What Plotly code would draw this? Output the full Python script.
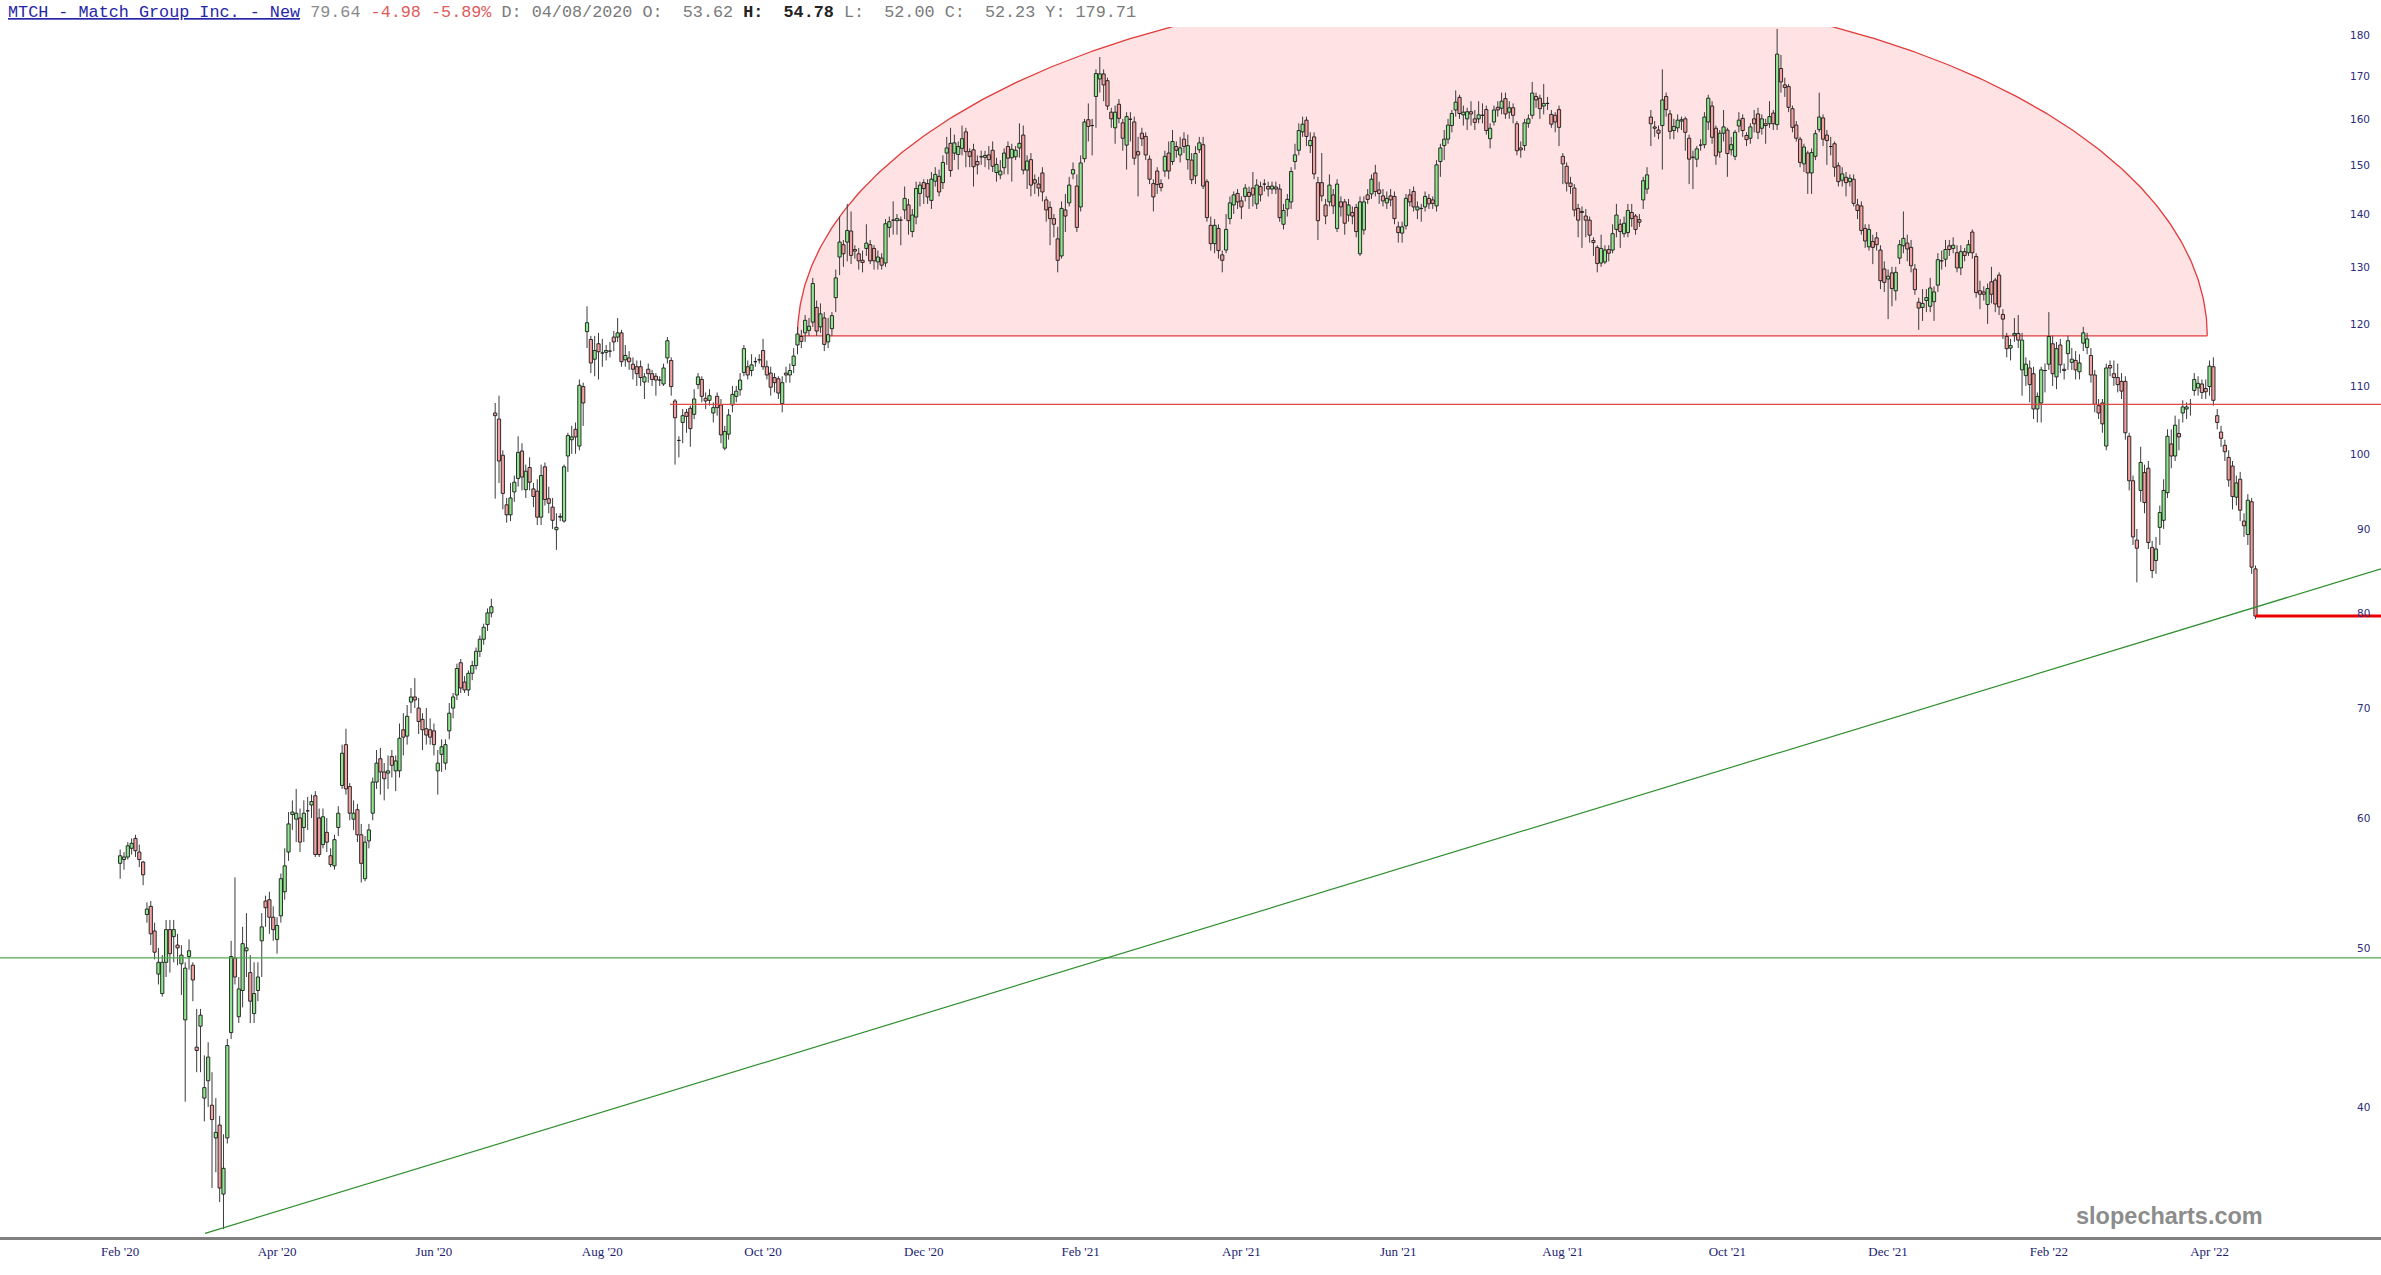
import numpy as np
import pandas as pd
import plotly.graph_objects as go

# ---------------- data ----------------
holidays = ["2020-02-17", "2020-04-10", "2020-05-25", "2020-07-03", "2020-09-07", "2020-11-26",
            "2020-12-25", "2021-01-01", "2021-01-18", "2021-02-15", "2021-04-02", "2021-05-31",
            "2021-07-05", "2021-09-06", "2021-11-25", "2021-12-24", "2022-01-17", "2022-02-21",
            "2022-04-15"]
first_date = "2020-02-03"

# (open, high, low, close)
ohlc_feb_jun_2020 = [
    (56.3, 57.4, 55.1, 56.9), (56.6, 57.2, 55.8, 56.8), (56.8, 58.0, 56.6, 57.7), (57.5, 58.3, 57.0, 57.9),
    (58.3, 58.6, 56.8, 57.3), (57.2, 57.8, 56.0, 56.6), (56.4, 56.5, 54.6, 55.4), (52.4, 53.3, 51.8, 52.8),
    (53.0, 53.4, 50.2, 51.0), (51.2, 51.8, 49.2, 49.7), (48.2, 50.0, 47.5, 49.0), (46.9, 49.5, 46.7, 49.0),
    (49.0, 52.0, 48.0, 51.3), (51.3, 52.0, 48.3, 49.6), (50.8, 52.0, 49.0, 51.3), (50.2, 51.0, 48.8, 50.0),
    (48.9, 50.2, 46.8, 49.5), (45.2, 49.0, 40.3, 48.6), (49.4, 50.6, 48.5, 49.8), (48.8, 49.0, 46.4, 47.8),
    (43.5, 45.9, 42.0, 43.3), (44.8, 45.9, 42.0, 45.5), (40.5, 43.0, 39.2, 41.1), (41.5, 43.8, 40.0, 42.9),
    (40.1, 42.0, 35.7, 39.3), (38.3, 40.5, 36.5, 38.6), (39.0, 39.5, 35.0, 35.7), (35.4, 38.5, 33.7, 36.7),
    (38.3, 44.0, 38.0, 43.6), (44.4, 50.5, 44.0, 49.4), (49.3, 55.2, 47.5, 48.0), (45.4, 48.0, 45.0, 47.2),
    (47.1, 51.5, 46.0, 50.3), (49.8, 52.5, 48.0, 50.0), (48.3, 49.5, 45.0, 46.4), (45.6, 49.0, 45.0, 46.9),
    (47.1, 49.0, 46.4, 48.0), (50.5, 52.5, 48.0, 51.5), (53.4, 53.8, 51.5, 52.9), (53.5, 54.1, 51.0, 52.2),
    (52.2, 53.0, 50.5, 51.3), (50.6, 52.2, 49.6, 51.6), (52.3, 55.5, 51.8, 55.1), (54.1, 57.5, 53.5, 56.1),
    (57.2, 60.5, 56.5, 59.5), (60.3, 61.5, 59.0, 60.5), (59.9, 62.5, 58.0, 60.4), (60.0, 60.8, 57.2, 58.0),
    (59.2, 61.5, 58.0, 60.4), (60.6, 61.8, 59.0, 60.6), (61.1, 62.0, 60.0, 61.4), (61.9, 62.3, 56.8, 57.0),
    (60.0, 60.8, 56.8, 57.0), (57.8, 60.8, 57.5, 60.1), (58.8, 60.0, 57.2, 58.0), (56.9, 57.5, 56.0, 56.2),
    (56.1, 58.6, 55.8, 58.2), (59.2, 61.0, 58.5, 60.4), (62.8, 66.5, 62.5, 65.7), (66.5, 68.0, 62.0, 62.5),
    (62.7, 63.0, 59.8, 60.4), (59.9, 61.5, 59.0, 60.4), (60.7, 61.2, 58.0, 58.6), (58.6, 59.5, 54.8, 56.3),
    (55.1, 58.5, 54.9, 58.0), (58.1, 59.5, 57.5, 59.0), (60.4, 63.5, 59.8, 63.1), (63.1, 66.0, 62.5, 64.8),
    (65.2, 66.2, 62.0, 64.0), (64.0, 64.8, 61.5, 63.4), (63.9, 65.5, 62.5, 64.1), (65.4, 66.0, 63.5, 64.6),
    (64.1, 65.5, 62.3, 65.0), (64.1, 68.5, 63.5, 67.1), (67.9, 69.5, 65.5, 67.2), (67.3, 70.3, 66.5, 69.2),
    (70.6, 72.0, 69.5, 71.1), (71.1, 73.0, 70.0, 70.8), (70.0, 71.0, 67.5, 68.7), (68.9, 69.5, 66.0, 67.9),
    (68.0, 70.0, 66.5, 67.4), (67.9, 69.0, 66.5, 67.2), (67.8, 68.5, 65.5, 66.5), (64.1, 66.0, 62.0, 64.8),
    (65.6, 67.0, 64.0, 66.3), (64.8, 67.0, 64.2, 66.5), (67.8, 70.5, 67.0, 69.5), (70.0, 71.5, 69.0, 71.1),
    (71.3, 74.5, 70.8, 74.0), (74.6, 75.0, 71.5, 72.0), (72.6, 73.2, 71.5, 71.8),
    (71.8, 73.8, 71.2, 73.5), (73.5, 74.8, 72.8, 74.3), (74.3, 76.2, 73.9, 75.8), (75.8, 77.5, 75.2, 77.1),
    (77.1, 78.8, 76.5, 78.4), (78.7, 80.5, 78.0, 80.0), (80.0, 81.6, 79.5, 80.7),
]

ohlc_jul_oct_2020 = [
    (105.9, 107.4, 93.9, 105.5), (105.0, 108.5, 96.0, 99.0), (99.8, 100.5, 92.5, 94.6), (93.1, 94.0, 90.8, 91.8),
    (91.8, 96.0, 91.0, 94.0), (94.8, 97.0, 93.5, 96.1), (96.6, 102.5, 95.5, 100.2), (100.4, 101.5, 95.0, 96.8),
    (95.1, 98.5, 94.0, 97.6), (98.1, 99.5, 95.0, 96.1), (95.2, 96.0, 92.8, 94.2), (94.9, 96.5, 90.5, 91.5),
    (91.5, 98.5, 90.5, 97.0), (98.2, 98.8, 93.0, 93.8), (93.9, 95.5, 92.0, 93.3), (92.8, 94.0, 90.0, 91.1),
    (89.9, 92.0, 87.4, 90.2), (91.5, 92.0, 91.0, 91.6), (91.0, 98.5, 90.8, 98.2), (99.7, 103.0, 97.5, 102.6),
    (102.0, 104.0, 100.0, 102.4), (103.5, 104.5, 100.0, 102.4), (101.1, 111.0, 100.5, 110.1),
    (109.9, 110.5, 104.0, 107.4), (118.7, 123.0, 116.0, 120.2), (117.4, 118.0, 112.0, 113.6),
    (114.2, 118.0, 111.5, 115.6), (116.7, 118.5, 111.0, 115.4), (115.2, 117.5, 113.0, 115.2),
    (115.3, 116.5, 114.0, 115.6), (115.5, 117.0, 114.5, 115.5), (117.8, 118.8, 115.5, 117.0),
    (117.8, 121.0, 117.0, 118.5), (118.5, 119.0, 113.0, 113.8), (114.1, 116.5, 113.0, 114.8),
    (114.4, 115.5, 112.5, 113.8), (113.4, 114.5, 111.0, 112.6), (113.0, 114.0, 110.0, 111.9),
    (113.0, 114.0, 110.0, 111.3), (110.6, 112.0, 108.0, 111.4), (112.6, 113.5, 110.5, 111.9),
    (111.9, 112.5, 110.0, 111.0), (111.5, 112.0, 108.5, 110.9), (110.9, 111.5, 110.0, 110.9),
    (110.3, 113.5, 110.0, 112.8), (114.4, 117.8, 113.5, 117.2), (114.0, 114.5, 108.5, 109.9),
    (107.7, 108.0, 98.5, 105.2), (101.9, 102.5, 99.5, 101.9), (104.5, 106.5, 101.5, 105.5),
    (106.0, 106.5, 103.0, 105.4), (106.6, 107.0, 101.0, 103.6), (105.7, 109.5, 105.0, 108.0),
    (110.2, 112.0, 109.5, 111.4), (111.0, 111.5, 107.5, 108.4), (108.1, 109.0, 106.5, 107.7),
    (107.8, 109.5, 107.0, 108.5), (105.9, 107.5, 104.5, 106.7), (108.4, 109.0, 105.5, 106.7),
    (107.1, 108.0, 101.5, 102.7), (100.8, 104.0, 100.5, 103.2), (102.8, 106.5, 102.0, 105.6),
    (107.1, 110.0, 106.0, 108.7), (108.4, 110.0, 107.5, 109.2), (109.4, 112.0, 108.5, 110.9),
    (112.1, 116.5, 111.5, 115.9), (113.0, 114.0, 111.0, 111.7), (112.4, 115.0, 111.5, 113.3),
    (113.8, 114.5, 113.0, 113.8), (114.1, 115.0, 113.5, 114.1), (115.6, 117.5, 112.5, 113.0),
    (113.0, 114.0, 111.0, 111.7), (112.0, 113.0, 108.5, 109.8), (111.3, 112.0, 109.0, 110.5),
    (111.1, 111.5, 108.0, 108.9), (107.3, 111.5, 106.0, 110.5), (112.0, 113.0, 110.5, 111.7),
    (111.7, 113.5, 110.5, 112.4), (113.2, 116.0, 112.0, 114.7), (116.5, 119.5, 115.0, 118.3),
    (117.9, 119.0, 116.0, 117.1), (118.5, 121.5, 117.0, 120.6), (118.9, 121.0, 118.0, 119.6),
    (120.3, 128.0, 119.5, 127.0), (122.8, 124.0, 118.0, 118.8),
]

ohlc_oct20_mar21 = [
    (119.5, 123.5, 118.5, 121.7), (121.0, 122.0, 115.5, 116.6), (117.0, 121.0, 116.0, 118.2),
    (119.2, 122.0, 118.0, 121.4), (124.5, 129.5, 122.0, 128.0), (131.8, 139.5, 128.5, 134.6),
    (134.1, 135.0, 130.0, 132.4), (134.6, 142.0, 131.0, 136.8), (136.7, 140.5, 130.5, 132.1),
    (133.2, 134.0, 131.5, 132.9), (132.4, 133.5, 129.5, 131.1), (131.2, 133.0, 129.0, 130.8),
    (133.4, 138.0, 132.0, 134.4), (134.1, 135.0, 130.5, 131.1), (133.4, 134.0, 129.5, 131.1),
    (130.9, 133.0, 129.5, 131.8), (131.6, 132.5, 129.5, 130.3), (130.7, 139.0, 130.0, 138.1),
    (137.4, 139.5, 135.5, 138.5), (138.8, 142.5, 136.0, 138.8), (138.7, 140.0, 136.0, 139.1),
    (138.8, 139.5, 134.0, 138.8), (140.8, 145.5, 139.0, 143.1), (141.8, 143.0, 136.0, 138.7),
    (136.6, 141.0, 135.5, 139.8), (139.4, 146.5, 138.0, 145.1), (144.1, 146.5, 141.5, 145.8),
    (146.3, 147.0, 142.0, 145.1), (146.1, 147.0, 142.0, 143.4), (142.7, 148.5, 141.0, 147.0),
    (146.6, 149.5, 145.5, 148.0), (147.6, 149.0, 143.5, 144.4), (146.3, 152.0, 145.0, 150.5),
    (152.5, 156.0, 150.0, 153.6), (154.6, 158.0, 147.5, 148.8), (152.5, 156.5, 151.0, 154.7),
    (152.2, 155.0, 149.0, 153.9), (153.5, 158.5, 152.0, 155.6), (157.1, 158.0, 149.5, 152.8),
    (152.8, 153.5, 149.5, 151.8), (153.2, 154.5, 145.5, 149.6), (150.7, 152.0, 148.0, 150.0),
    (151.8, 153.0, 150.0, 151.7), (151.6, 153.0, 149.5, 152.0), (152.1, 154.0, 149.0, 151.1),
    (153.1, 155.0, 148.5, 149.7), (148.4, 151.5, 146.5, 150.1), (147.9, 151.0, 147.0, 148.7),
    (149.4, 153.5, 148.0, 152.5), (153.9, 155.0, 148.0, 151.4), (151.5, 154.5, 146.5, 153.3),
    (151.7, 154.0, 151.0, 153.1), (153.6, 159.0, 151.5, 154.6), (156.4, 158.5, 148.0, 148.9),
    (148.9, 152.0, 145.0, 150.8), (151.1, 152.5, 143.5, 145.8), (146.9, 148.0, 144.0, 146.2),
    (146.0, 147.5, 143.5, 145.2), (148.3, 149.5, 142.5, 144.4), (142.8, 143.5, 138.5, 140.8),
    (141.3, 142.5, 134.0, 139.1), (139.1, 140.0, 135.5, 138.0), (135.2, 137.5, 129.0, 131.2),
    (132.0, 142.5, 131.5, 141.1), (140.8, 144.0, 136.5, 139.6), (142.2, 147.5, 141.5, 145.8),
    (148.1, 150.5, 147.0, 149.0), (145.6, 148.0, 136.5, 137.4), (141.4, 152.0, 140.5, 150.4),
    (151.3, 160.0, 150.5, 159.3), (159.8, 163.5, 155.0, 158.3), (158.5, 160.0, 152.0, 158.5),
    (165.1, 171.5, 158.0, 170.5), (169.2, 174.5, 166.0, 170.4), (170.4, 171.5, 164.0, 167.8),
    (168.8, 169.5, 162.0, 162.9), (161.5, 162.5, 158.0, 160.0), (158.0, 163.0, 154.5, 161.5),
    (163.3, 164.5, 159.0, 160.1), (159.1, 160.0, 153.0, 155.7), (154.2, 161.5, 149.0, 160.5),
    (159.9, 161.5, 155.0, 160.0), (159.3, 160.5, 150.0, 151.4), (152.8, 156.0, 143.5, 152.1),
    (156.8, 158.0, 154.0, 155.6), (156.1, 157.0, 151.0, 152.1), (151.2, 152.0, 146.0, 147.0),
    (146.1, 147.0, 140.5, 143.4), (148.7, 149.5, 144.0, 145.9), (146.1, 147.0, 144.5, 145.3),
    (148.7, 153.0, 147.5, 151.8), (152.5, 155.0, 147.0, 148.7), (150.7, 157.5, 150.0, 155.0),
]

ohlc_mar_jul_2021 = [
    (153.9, 155.0, 151.5, 153.1), (152.1, 156.0, 150.5, 153.6), (155.5, 157.0, 152.5, 153.9),
    (151.1, 156.5, 149.0, 154.1), (151.0, 152.5, 146.0, 146.9), (147.7, 154.0, 146.0, 152.4),
    (153.2, 156.0, 152.5, 154.7), (154.3, 156.0, 145.0, 145.6), (146.5, 147.0, 138.5, 139.3),
    (137.8, 139.5, 133.0, 134.3), (134.3, 139.0, 132.5, 137.8), (137.2, 138.0, 131.5, 133.0),
    (132.2, 133.0, 129.0, 131.2), (133.1, 140.0, 132.5, 137.0), (139.1, 143.5, 138.0, 142.2),
    (141.8, 144.5, 140.0, 143.8), (144.1, 145.0, 141.0, 142.4), (142.6, 143.5, 139.0, 141.4),
    (143.5, 146.0, 142.5, 145.2), (144.3, 145.5, 141.0, 143.5), (145.2, 148.5, 141.5, 143.8),
    (142.0, 147.0, 141.0, 145.8), (145.5, 146.5, 142.5, 143.8), (146.0, 147.0, 144.5, 146.0),
    (145.5, 146.5, 143.5, 145.0), (145.0, 146.5, 144.0, 145.6), (145.4, 146.5, 144.0, 145.0),
    (145.0, 146.0, 138.5, 139.3), (138.0, 142.0, 137.0, 140.7), (141.0, 144.0, 139.5, 142.9),
    (142.4, 149.5, 141.0, 148.6), (150.7, 154.5, 149.0, 152.1), (153.1, 159.0, 152.0, 157.4),
    (157.1, 160.5, 156.0, 158.8), (159.7, 160.5, 154.0, 156.1), (154.1, 157.0, 152.5, 155.2),
    (156.0, 157.0, 147.0, 148.1), (146.3, 147.5, 135.0, 138.7), (146.3, 152.5, 142.5, 143.6),
    (141.8, 143.0, 138.0, 139.6), (142.4, 148.0, 141.5, 145.8), (143.8, 145.0, 140.0, 141.6),
    (137.2, 147.0, 136.5, 146.0), (142.4, 143.5, 139.5, 141.4), (142.4, 143.0, 136.0, 138.2),
    (139.8, 143.0, 138.5, 141.8), (140.3, 141.5, 138.0, 139.6), (141.3, 142.0, 135.5, 136.6),
    (132.4, 143.5, 132.0, 142.4), (136.9, 143.5, 136.0, 142.4), (143.8, 145.0, 142.0, 142.9),
    (144.0, 148.0, 143.0, 147.0), (148.3, 150.0, 143.5, 144.5), (144.8, 146.5, 142.0, 144.1),
    (143.6, 145.0, 141.5, 142.6), (142.2, 144.5, 141.0, 143.1), (143.6, 145.0, 141.5, 142.8),
    (143.5, 144.5, 138.0, 139.1), (137.5, 138.5, 134.5, 136.4), (136.3, 138.5, 134.5, 137.5),
    (137.7, 144.0, 137.0, 143.1), (143.8, 145.0, 141.5, 142.4), (144.5, 145.5, 140.5, 141.4),
    (140.8, 142.5, 139.0, 141.4), (141.1, 142.0, 138.5, 141.1), (141.4, 144.5, 140.5, 143.5),
    (143.1, 144.0, 141.0, 142.0), (142.8, 143.5, 141.0, 142.1), (141.6, 151.0, 140.5, 150.0),
    (150.7, 154.5, 147.5, 153.6), (154.1, 157.5, 151.0, 155.5), (155.5, 160.0, 154.5, 158.6),
    (158.5, 162.0, 157.0, 161.2), (162.0, 166.5, 160.5, 163.8), (164.9, 165.5, 160.0, 161.2),
    (160.9, 163.0, 158.5, 161.5), (160.0, 162.5, 157.5, 161.6), (161.6, 164.0, 158.5, 161.1),
    (160.0, 162.0, 157.5, 159.2), (160.0, 164.0, 159.0, 160.9), (160.8, 163.5, 159.0, 160.8),
    (162.1, 163.0, 156.5, 157.4), (155.6, 159.0, 153.5, 157.9), (159.3, 163.0, 158.5, 162.0),
    (162.6, 164.0, 160.5, 162.0), (162.4, 166.0, 161.0, 164.0), (164.6, 166.0, 160.0, 161.1),
    (161.5, 164.0, 160.0, 162.5), (162.5, 163.5, 159.0, 160.8), (158.9, 159.5, 152.0, 153.0),
]

ohlc_jul_dec_2021 = [
    (153.6, 155.0, 151.5, 153.2), (154.1, 160.0, 153.0, 159.1), (159.0, 161.0, 158.0, 160.0),
    (160.8, 168.5, 160.0, 165.9), (165.1, 166.0, 162.5, 164.3), (164.7, 165.5, 160.0, 162.3),
    (162.9, 168.0, 161.0, 163.5), (163.5, 165.0, 162.0, 163.5), (161.0, 162.0, 158.0, 158.8),
    (160.8, 161.5, 157.0, 159.3), (162.1, 163.0, 154.0, 158.1), (151.8, 152.5, 146.0, 150.2),
    (149.7, 150.5, 144.5, 146.2), (146.2, 147.5, 144.0, 145.5), (145.2, 146.0, 139.5, 140.8),
    (141.1, 142.0, 135.5, 138.8), (140.5, 141.5, 133.5, 140.3), (139.6, 141.0, 135.5, 138.8),
    (138.8, 139.5, 134.5, 135.9), (134.9, 135.5, 132.0, 134.5), (133.6, 134.0, 129.0, 130.6),
    (130.7, 136.0, 130.0, 133.4), (130.9, 134.0, 130.5, 133.1), (133.2, 134.0, 131.0, 132.5),
    (133.1, 138.0, 132.5, 136.2), (137.0, 142.0, 135.5, 139.8), (138.0, 139.0, 133.5, 136.6),
    (136.2, 139.5, 135.5, 138.2), (136.4, 142.0, 135.5, 140.7), (140.3, 142.0, 137.5, 139.1),
    (139.6, 140.0, 136.0, 137.0), (138.9, 140.0, 137.5, 138.4), (142.8, 147.5, 141.0, 146.7),
    (145.0, 149.5, 144.0, 147.9), (160.4, 162.0, 154.0, 158.9), (158.2, 159.5, 156.0, 157.9),
    (157.5, 158.5, 155.5, 156.8), (158.5, 171.5, 149.0, 164.3), (165.1, 166.0, 160.5, 162.1),
    (161.1, 162.0, 155.5, 157.2), (157.4, 160.0, 155.5, 158.3), (158.0, 161.0, 157.0, 159.7),
    (159.5, 160.5, 157.5, 159.8), (160.0, 160.5, 153.0, 157.0), (155.7, 156.5, 146.0, 151.2),
    (151.7, 153.0, 145.0, 151.6), (151.2, 154.0, 149.5, 153.4), (154.2, 155.5, 153.0, 154.3),
    (154.3, 161.5, 153.5, 160.4), (159.3, 165.5, 157.5, 164.7), (162.9, 164.0, 154.5, 155.9),
    (157.9, 158.5, 150.0, 151.9), (152.7, 157.5, 151.5, 156.8), (156.8, 162.0, 155.0, 158.2),
    (157.5, 158.0, 147.5, 152.4), (153.2, 156.0, 152.0, 154.3), (151.8, 157.5, 151.0, 157.0),
    (158.4, 161.5, 157.0, 159.7), (160.1, 161.0, 156.0, 157.4), (156.3, 157.0, 154.0, 155.4),
    (155.7, 159.0, 154.5, 158.2), (160.0, 162.0, 157.0, 158.9), (161.1, 162.5, 155.5, 157.0),
    (157.9, 161.0, 156.5, 160.0), (158.9, 160.0, 154.5, 158.5), (158.9, 164.0, 158.0, 160.5),
    (161.3, 162.0, 157.5, 158.9), (158.7, 181.5, 157.5, 175.2), (171.7, 175.0, 166.0, 168.5),
    (167.8, 169.5, 165.0, 167.2), (167.4, 168.0, 161.5, 162.6), (162.3, 163.0, 157.0, 158.1),
    (158.6, 159.5, 155.0, 155.7), (155.5, 156.0, 149.5, 150.5), (150.2, 154.5, 148.5, 153.8),
    (152.5, 153.0, 144.0, 148.3), (148.3, 153.5, 144.0, 152.6), (151.8, 157.5, 151.0, 156.7),
    (157.6, 166.0, 157.0, 160.4), (160.2, 161.0, 154.0, 155.5), (156.4, 157.5, 150.0, 155.2),
    (154.0, 156.0, 152.0, 153.9), (154.5, 155.0, 147.5, 149.5), (149.8, 150.5, 145.5, 146.5),
    (146.8, 149.5, 145.5, 148.1), (147.4, 148.5, 143.5, 146.3), (146.5, 148.0, 145.5, 147.2),
    (147.0, 148.0, 141.5, 142.1), (141.8, 143.0, 139.0, 140.7), (141.6, 142.5, 136.0, 136.8),
    (137.2, 138.0, 133.5, 134.8), (133.7, 138.0, 133.0, 137.0),
]

ohlc_dec21_apr22 = [
    (134.7, 136.0, 130.5, 133.6), (135.4, 136.5, 133.0, 134.1), (133.1, 134.0, 126.0, 127.5),
    (129.6, 131.0, 125.5, 127.2), (127.8, 129.5, 120.8, 128.3), (128.9, 130.0, 123.0, 126.1),
    (125.7, 130.0, 124.0, 129.0), (131.6, 135.0, 130.5, 134.1), (133.9, 140.5, 132.5, 135.3),
    (134.4, 136.0, 131.0, 133.3), (133.6, 135.0, 129.0, 130.2), (129.6, 130.5, 125.0, 125.9),
    (123.7, 124.5, 119.0, 122.7), (122.8, 126.0, 120.5, 123.5), (124.0, 126.0, 122.0, 124.5),
    (123.0, 128.0, 122.0, 126.2), (123.8, 126.5, 120.5, 125.5), (126.7, 132.5, 125.5, 131.3),
    (131.1, 133.0, 129.5, 131.1), (131.4, 135.0, 130.0, 133.2), (133.9, 135.0, 132.0, 133.2),
    (133.4, 135.5, 132.5, 134.0), (132.6, 134.0, 129.0, 129.8), (129.8, 134.0, 128.5, 132.8),
    (132.8, 133.5, 131.0, 132.1), (132.6, 135.0, 132.0, 134.1), (136.5, 137.0, 131.5, 132.6),
    (131.9, 132.5, 124.5, 125.4), (125.7, 127.5, 122.5, 125.1), (125.5, 126.5, 124.0, 125.1),
    (123.3, 127.0, 120.0, 126.1), (127.3, 130.0, 123.5, 125.1), (127.6, 128.0, 122.0, 123.4),
    (128.5, 129.0, 121.5, 122.9), (121.6, 122.5, 117.5, 120.8), (117.9, 118.5, 114.5, 115.9),
    (116.0, 117.5, 114.0, 116.4), (118.1, 121.0, 117.0, 118.4), (118.4, 121.5, 116.0, 117.3),
    (112.5, 118.5, 108.5, 117.3), (111.6, 114.5, 110.0, 113.4), (112.8, 114.0, 107.5, 110.2),
    (111.9, 113.0, 105.0, 106.5), (106.5, 109.0, 104.5, 108.4), (107.4, 113.0, 104.5, 112.5),
    (112.4, 113.5, 109.0, 112.5), (113.4, 122.0, 112.5, 117.9), (116.7, 118.0, 110.0, 111.9),
    (111.4, 117.0, 109.5, 115.9), (116.5, 117.5, 112.0, 113.3), (112.6, 113.5, 111.0, 112.4),
    (115.1, 118.0, 112.5, 117.2), (113.7, 116.0, 112.5, 114.2), (114.0, 115.5, 111.0, 112.5),
    (112.2, 115.0, 111.0, 113.6), (116.8, 119.5, 115.5, 118.5), (116.1, 118.5, 115.0, 117.5),
    (114.8, 116.0, 110.5, 111.7), (111.7, 112.5, 106.0, 107.2), (107.0, 108.0, 105.0, 105.9),
    (107.4, 108.0, 103.0, 104.3), (101.1, 113.5, 100.5, 112.8), (113.2, 114.0, 111.5, 112.8),
    (111.9, 114.0, 110.0, 111.3), (111.3, 113.5, 109.0, 110.2), (110.7, 112.0, 108.0, 109.2),
    (110.7, 111.5, 102.0, 103.0), (102.5, 103.0, 95.0, 96.3), (96.3, 97.0, 88.0, 89.0),
    (88.6, 90.0, 83.5, 87.6), (95.0, 101.0, 93.5, 98.8), (97.4, 98.5, 92.0, 93.4),
    (98.0, 99.0, 87.5, 88.3), (87.7, 88.5, 84.0, 84.9), (86.1, 89.0, 84.5, 87.5),
    (90.2, 93.0, 88.0, 92.1), (91.1, 96.5, 90.0, 95.0), (94.7, 103.5, 94.0, 102.5),
    (101.4, 103.5, 98.0, 99.7), (99.7, 105.5, 99.0, 104.1), (102.9, 105.0, 100.5, 102.4),
    (105.9, 107.8, 104.5, 106.8), (106.5, 107.5, 105.0, 106.8), (107.2, 108.0, 105.5, 107.2),
    (109.3, 112.0, 108.5, 111.0), (109.7, 111.5, 108.5, 110.4), (110.3, 111.0, 108.0, 109.0),
    (109.6, 111.0, 108.0, 109.1), (109.9, 114.0, 108.5, 113.1), (113.0, 114.5, 107.0, 107.8),
    (105.5, 106.5, 103.5, 104.5), (103.1, 104.0, 101.0, 102.2), (101.2, 102.0, 99.0, 100.3),
    (99.5, 100.5, 95.5, 96.4), (98.3, 99.0, 92.5, 94.2), (94.1, 97.0, 93.0, 96.0),
    (96.5, 97.5, 91.0, 92.4), (91.0, 92.0, 89.0, 90.4), (89.3, 94.5, 88.0, 93.7),
    (93.5, 94.0, 84.5, 85.3), (85.1, 85.5, 79.3, 79.64),
]

# drawn studies (price levels / trading-day positions)
dome_left_day, dome_right_day = 177.0, 545.4
dome_base_price, dome_top_price = 118.0, 192.8
resistance_price, resistance_start_day = 107.2, 143.7
support_price = 49.3
trend_days = [22.2, 590.8]
trend_prices = [33.5, 85.1]
last_price = 79.64

y_ticks = [40, 50, 60, 70, 80, 90, 100, 110, 120, 130, 140, 150, 160, 170, 180]
tick_months = ["2020-02", "2020-04", "2020-06", "2020-08", "2020-10", "2020-12", "2021-02",
               "2021-04", "2021-06", "2021-08", "2021-10", "2021-12", "2022-02", "2022-04"]
tick_labels = ["Feb '20", "Apr '20", "Jun '20", "Aug '20", "Oct '20", "Dec '20", "Feb '21",
               "Apr '21", "Jun '21", "Aug '21", "Oct '21", "Dec '21", "Feb '22", "Apr '22"]

# ---------------- build ----------------
rows = (ohlc_feb_jun_2020 + ohlc_jul_oct_2020 + ohlc_oct20_mar21 + ohlc_mar_jul_2021
        + ohlc_jul_dec_2021 + ohlc_dec21_apr22)
arr = np.array(rows, dtype=float)
O, H, L, C = arr[:, 0], arr[:, 1], arr[:, 2], arr[:, 3]
H = np.maximum(H, np.maximum(O, C))
L = np.minimum(L, np.minimum(O, C))
n = len(rows)
idx = np.arange(n)

cbd = pd.offsets.CustomBusinessDay(holidays=holidays)
dates = pd.date_range(first_date, periods=n + 60, freq=cbd)
tick_pos = [int(np.argmax(dates >= pd.Timestamp(m + "-01"))) for m in tick_months]

x_range = [-31.4, 590.8]
y_lo, y_hi = 33.33, 182.0

fig = go.Figure()

# dome (half ellipse in log-price space)
t = np.linspace(0, np.pi, 400)
cx = (dome_left_day + dome_right_day) / 2
ax_ = (dome_right_day - dome_left_day) / 2
lb, lt = np.log(dome_base_price), np.log(dome_top_price)
ex = np.concatenate([cx + ax_ * np.cos(t), [dome_left_day, dome_right_day]])
ey = np.exp(np.concatenate([lb + (lt - lb) * np.sin(t), [lb, lb]]))
fig.add_trace(go.Scatter(x=ex, y=ey, mode="lines", fill="toself", fillcolor="#ffe2e4",
                         line=dict(color="#e03b3b", width=1.3), hoverinfo="skip", showlegend=False))

# wicks
wx, wy = [], []
for i in range(n):
    wx += [i, i, None]
    wy += [L[i], H[i], None]
fig.add_trace(go.Scatter(x=wx, y=wy, mode="lines", line=dict(color="#3c3c3c", width=1),
                         hoverinfo="skip", showlegend=False))

# bodies: one filled rectangle per candle (kept in the scatter layer so they sit above the dome)
half_w = 0.42
up = C >= O
for mask, col in ((up, "#8fe68f"), (~up, "#f2a0a0")):
    bx, by = [], []
    for i in idx[mask]:
        lo, hi = min(O[i], C[i]), max(O[i], C[i])
        bx += [i - half_w, i + half_w, i + half_w, i - half_w, i - half_w, None]
        by += [lo, lo, hi, hi, lo, None]
    fig.add_trace(go.Scatter(x=bx, y=by, mode="lines", fill="toself", fillcolor=col,
                             line=dict(color="#1a1a1a", width=0.9), connectgaps=False,
                             hoverinfo="skip", showlegend=False))

# horizontal levels and trend line
fig.add_trace(go.Scatter(x=[resistance_start_day, x_range[1]], y=[resistance_price] * 2, mode="lines",
                         line=dict(color="#e04848", width=1.2), hoverinfo="skip", showlegend=False))
fig.add_trace(go.Scatter(x=x_range, y=[support_price] * 2, mode="lines",
                         line=dict(color="#50a850", width=1.2), hoverinfo="skip", showlegend=False))
fig.add_trace(go.Scatter(x=trend_days, y=trend_prices, mode="lines",
                         line=dict(color="#2f8f2f", width=1.2), hoverinfo="skip", showlegend=False))
fig.add_trace(go.Scatter(x=[n - 1, x_range[1]], y=[last_price] * 2, mode="lines",
                         line=dict(color="#ee0000", width=3), hoverinfo="skip", showlegend=False))

# right-hand price labels (drawn inside the plot, like the original)
for v in y_ticks:
    fig.add_annotation(text=str(v), xref="paper", yref="y", x=1, y=np.log10(v), xshift=-9,
                       xanchor="right", yanchor="middle", showarrow=False,
                       font=dict(family="DejaVu Sans, Verdana, sans-serif", size=10.5, color="#2c2c7c"))

nb = "\u00a0"
header = (f"<span style='color:#2626a6'><u>MTCH - Match Group Inc. - New</u></span>"
          f"{nb}<span style='color:#8a8a8a'>79.64</span>"
          f"{nb}<span style='color:#e05a5a'>-4.98{nb}-5.89%</span>"
          f"{nb}<span style='color:#7a7a7a'>D:{nb}04/08/2020{nb}O:{nb}{nb}53.62</span>"
          f"{nb}<b><span style='color:#222'>H:{nb}{nb}54.78</span></b>"
          f"{nb}<span style='color:#7a7a7a'>L:{nb}{nb}52.00{nb}C:{nb}{nb}52.23{nb}Y:{nb}179.71</span>")
fig.add_annotation(text=header, xref="paper", yref="paper", x=0, y=1, xshift=6, yshift=15,
                   xanchor="left", yanchor="middle", showarrow=False,
                   font=dict(family="Liberation Mono, Courier New, monospace", size=16.8, color="#7a7a7a"))
fig.add_annotation(text="<b>slopecharts.com</b>", xref="paper", yref="paper",
                   x=2169 / 2381, y=(1237 - 1216) / 1210, xanchor="center", yanchor="middle",
                   showarrow=False, font=dict(family="Liberation Sans, Arial, sans-serif", size=23.5, color="#8c8c8c"))

fig.update_layout(
    width=2381, height=1275,
    margin=dict(l=0, r=0, t=27, b=38, autoexpand=False),
    paper_bgcolor="white", plot_bgcolor="white",
    showlegend=False, hovermode=False,
    xaxis=dict(range=x_range, showgrid=False, zeroline=False, showline=True, linecolor="#808080",
               linewidth=3, tickmode="array", tickvals=tick_pos, ticktext=tick_labels, ticks="",
               automargin=False,
               tickfont=dict(family="Liberation Serif, Times New Roman, serif", size=13, color="#1c1c72")),
    yaxis=dict(type="log", range=[np.log10(y_lo), np.log10(y_hi)], side="right", showgrid=False,
               zeroline=False, showline=False, ticks="", showticklabels=False, automargin=False),
)

fig.write_html("out.html", config={"displayModeBar": False})

# remove the default page margin so the 2381x1275 figure fills the window exactly
with open("out.html", "r", encoding="utf-8") as fh:
    page = fh.read()
page = page.replace("<head>", "<head><style>html,body{margin:0;padding:0;overflow:hidden;}</style>", 1)
with open("out.html", "w", encoding="utf-8") as fh:
    fh.write(page)
